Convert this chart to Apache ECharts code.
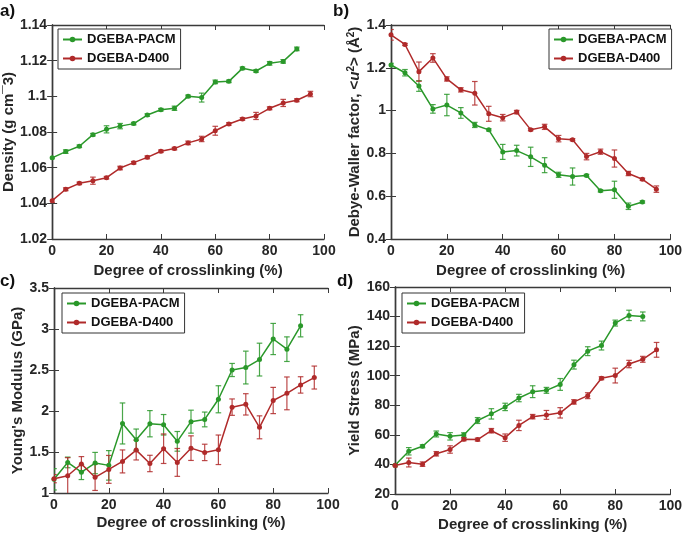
<!DOCTYPE html>
<html>
<head>
<meta charset="utf-8">
<script src="https://cdn.jsdelivr.net/npm/echarts@6/dist/echarts.min.js"></script>
<style>
html,body{margin:0;padding:0;background:#fff;}
#chart{width:685px;height:535px;}
</style>
</head>
<body>
<div id="chart"></div>
<script>
// ---------- DATA ----------
var xPACM = [0,5,10,15,20,25,30,35,40,45,50,55,60,65,70,75,80,85,90];
var xD400 = [0,5,10,15,20,25,30,35,40,45,50,55,60,65,70,75,80,85,90,95];
var seriesNames = ['DGEBA-PACM', 'DGEBA-D400'];
var xAxisTitle = 'Degree of crosslinking (%)';

// a) Density
var densityPACM    = [1.0655,1.069,1.072,1.0785,1.0815,1.0833,1.0847,1.0895,1.0925,1.0933,1.100,1.0993,1.1081,1.1084,1.1157,1.1142,1.1185,1.1196,1.1266];
var densityPACMErr = [0.0005,0.001,0.0007,0.0007,0.002,0.0015,0.0007,0.0007,0.0007,0.0012,0.0007,0.0025,0.001,0.0007,0.0007,0.0007,0.001,0.001,0.001];
var densityD400    = [1.0415,1.0479,1.0512,1.0527,1.0544,1.0598,1.0628,1.0658,1.0692,1.0707,1.0739,1.0761,1.0807,1.0845,1.0873,1.089,1.0933,1.0963,1.0978,1.1013];
var densityD400Err = [0.001,0.0008,0.0007,0.002,0.0007,0.001,0.0007,0.0008,0.0007,0.0007,0.001,0.0015,0.0025,0.0007,0.0007,0.002,0.0008,0.002,0.0008,0.0015];

// b) Debye-Waller factor
var dwPACM    = [1.213,1.177,1.115,1.008,1.026,0.989,0.933,0.910,0.807,0.813,0.784,0.745,0.700,0.692,0.697,0.625,0.630,0.553,0.573];
var dwPACMErr = [0.008,0.015,0.025,0.02,0.05,0.025,0.012,0.005,0.035,0.025,0.045,0.035,0.012,0.04,0.005,0.005,0.04,0.015,0.005];
var dwD400    = [1.354,1.309,1.182,1.246,1.148,1.097,1.081,0.985,0.967,0.993,0.911,0.924,0.869,0.864,0.785,0.808,0.776,0.706,0.679,0.633];
var dwD400Err = [0.025,0.005,0.045,0.02,0.01,0.01,0.055,0.035,0.015,0.008,0.005,0.012,0.015,0.005,0.015,0.012,0.04,0.01,0.005,0.015];

// c) Young's modulus
var ymPACM    = [1.167,1.373,1.254,1.365,1.337,1.848,1.65,1.845,1.832,1.63,1.87,1.897,2.143,2.50,2.53,2.627,2.878,2.754,3.039];
var ymPACMErr = [0.13,0.065,0.09,0.13,0.18,0.25,0.13,0.16,0.125,0.12,0.14,0.09,0.165,0.08,0.2,0.2,0.19,0.15,0.135];
var ymD400    = [1.175,1.211,1.354,1.191,1.288,1.385,1.523,1.36,1.54,1.373,1.547,1.495,1.527,2.047,2.081,1.801,2.128,2.215,2.318,2.408];
var ymD400Err = [0.05,0.22,0.09,0.16,0.17,0.14,0.12,0.1,0.18,0.17,0.15,0.1,0.18,0.1,0.13,0.14,0.16,0.2,0.1,0.14];

// d) Yield stress
var ysPACM    = [39.5,48.9,52.3,60.6,59.0,59.9,69.7,74.2,78.9,84.9,89.2,90.1,94.1,107.5,116.6,120.4,135.6,140.8,140.1];
var ysPACMErr = [1,2.5,1,2,2.5,1.5,2,3.5,2.5,2.5,4,2,4,3,3,3,2,3.5,3];
var ysD400    = [39.3,41.3,40.2,47.2,50.1,57.0,56.8,62.8,58.1,66.4,72.3,73.5,74.9,82.3,86.5,98.3,100.1,107.9,111.1,117.5];
var ysD400Err = [1,3,1.5,1.5,2.5,1,1,1.5,2.5,3.5,1.5,3,3.5,1.5,2,1,5,2.5,2,5];

// ---------- STYLE / LAYOUT ----------
var GREEN = '#2a982a';
var RED = '#b02a2a';
var FONT = 'Liberation Sans, Arial, sans-serif';
var AXIS_COLOR = '#3a3a3a';

var panels = [
  {label:'a)', lx:0, ly:3, grid:{left:51, top:25, width:273, height:214},
   y:{min:1.02, max:1.14, interval:0.02, dec:2, name:'Density (g cm¯3)', gap:26},
   xgap:24, legend:{left:58, top:29},
   g:densityPACM, ge:densityPACMErr, r:densityD400, re:densityD400Err},
  {label:'b)', lx:333, ly:3, grid:{left:391, top:25, width:282, height:214},
   y:{min:0.4, max:1.4, interval:0.2, dec:1, name:'Debye-Waller factor, <{it|u}{sup|2}> (Å{sup|2})', gap:22},
   xgap:24, legend:{left:549, top:29},
   g:dwPACM, ge:dwPACMErr, r:dwD400, re:dwD400Err},
  {label:'c)', lx:0, ly:273, grid:{left:54, top:288, width:274, height:205},
   y:{min:1, max:3.5, interval:0.5, dec:1, name:"Young's Modulus (GPa)", gap:23},
   xgap:22, legend:{left:62, top:293},
   g:ymPACM, ge:ymPACMErr, r:ymD400, re:ymD400Err},
  {label:'d)', lx:337, ly:273, grid:{left:395, top:287, width:277, height:207},
   y:{min:20, max:160, interval:20, dec:0, name:'Yield Stress (MPa)', gap:27},
   xgap:23, legend:{left:402, top:293},
   g:ysPACM, ge:ysPACMErr, r:ysD400, re:ysD400Err}
];

function fmt(dec){ return function(v){ return String(parseFloat(Number(v).toFixed(dec))); }; }

function makeErr(color){
  return function(params, api){
    var x = api.value(0), y = api.value(1), e = api.value(2);
    var hi = api.coord([x, y + e]);
    var lo = api.coord([x, y - e]);
    var w = 2.8;
    var st = {stroke: color, lineWidth: 1.2, opacity: 0.85};
    return {type:'group', children:[
      {type:'line', shape:{x1:hi[0], y1:hi[1], x2:lo[0], y2:lo[1]}, style:st},
      {type:'line', shape:{x1:hi[0]-w, y1:hi[1], x2:hi[0]+w, y2:hi[1]}, style:st},
      {type:'line', shape:{x1:lo[0]-w, y1:lo[1], x2:lo[0]+w, y2:lo[1]}, style:st}
    ]};
  };
}

var option = {
  animation:false,
  backgroundColor:'#fff',
  textStyle:{fontFamily:FONT},
  grid:[], xAxis:[], yAxis:[], series:[], legend:[], graphic:[]
};

panels.forEach(function(p, i){
  option.grid.push(p.grid);
  var tickStyle = {inside:true, length:5, lineStyle:{color:AXIS_COLOR, width:1}};
  var lineStyle = {show:true, lineStyle:{color:AXIS_COLOR, width:1.4}};
  var labelStyle = {fontSize:14, fontWeight:'bold', color:'#262626', fontFamily:FONT};
  option.xAxis.push({type:'value', gridIndex:i, min:0, max:100, interval:20, position:'bottom',
    axisLine:lineStyle, axisTick:tickStyle, splitLine:{show:false},
    axisLabel:Object.assign({margin:5}, labelStyle),
    name:xAxisTitle, nameLocation:'middle', nameGap:p.xgap,
    nameTextStyle:{fontSize:15, fontWeight:'bold', color:'#262626', fontFamily:FONT, verticalAlign:'top'}});
  option.xAxis.push({type:'value', gridIndex:i, min:0, max:100, interval:20, position:'top',
    axisLine:lineStyle, axisTick:tickStyle, splitLine:{show:false}, axisLabel:{show:false}});
  option.yAxis.push({type:'value', gridIndex:i, min:p.y.min, max:p.y.max, interval:p.y.interval, position:'left',
    axisLine:lineStyle, axisTick:tickStyle, splitLine:{show:false},
    axisLabel:Object.assign({margin:5, formatter:fmt(p.y.dec)}, labelStyle),
    name:p.y.name, nameLocation:'middle', nameGap:p.y.gap, nameRotate:90,
    nameTextStyle:{fontSize:15, fontWeight:'bold', color:'#262626', fontFamily:FONT,
      rich:{
        it:{fontSize:15, fontWeight:'bold', fontStyle:'italic', color:'#262626', fontFamily:FONT},
        sup:{fontSize:10, fontWeight:'bold', color:'#262626', fontFamily:FONT, verticalAlign:'top', padding:[0,0,8,0]}
      }}});
  option.yAxis.push({type:'value', gridIndex:i, min:p.y.min, max:p.y.max, interval:p.y.interval, position:'right',
    axisLine:lineStyle, axisTick:tickStyle, splitLine:{show:false}, axisLabel:{show:false}});

  var xi = 2*i, yi = 2*i;
  var gData = xPACM.map(function(x, k){ return [x, p.g[k]]; });
  var rData = xD400.map(function(x, k){ return [x, p.r[k]]; });
  var geData = xPACM.map(function(x, k){ return [x, p.g[k], p.ge[k]]; });
  var reData = xD400.map(function(x, k){ return [x, p.r[k], p.re[k]]; });

  option.series.push({type:'custom', name:'errG'+i, xAxisIndex:xi, yAxisIndex:yi, clip:true,
    renderItem:makeErr(GREEN), data:geData, z:3, silent:true});
  option.series.push({type:'custom', name:'errR'+i, xAxisIndex:xi, yAxisIndex:yi, clip:true,
    renderItem:makeErr(RED), data:reData, z:3, silent:true});
  option.series.push({type:'line', name:seriesNames[0], xAxisIndex:xi, yAxisIndex:yi, data:gData,
    symbol:'circle', symbolSize:5, color:GREEN, lineStyle:{width:1.5, color:GREEN},
    itemStyle:{color:GREEN}, z:4});
  option.series.push({type:'line', name:seriesNames[1], xAxisIndex:xi, yAxisIndex:yi, data:rData,
    symbol:'circle', symbolSize:5, color:RED, lineStyle:{width:1.5, color:RED},
    itemStyle:{color:RED}, z:4});

  option.legend.push({data:seriesNames, left:p.legend.left, top:p.legend.top, orient:'vertical',
    itemWidth:19, itemHeight:7, itemGap:4, padding:[3,5,3,4],
    borderColor:'#333', borderWidth:1, backgroundColor:'#fff',
    textStyle:{fontSize:13, fontWeight:'bold', color:'#111', fontFamily:FONT, lineHeight:15}, selectedMode:false});

  option.graphic.push({type:'text', left:p.lx, top:p.ly,
    style:{text:p.label, font:'bold 17px Liberation Sans, Arial, sans-serif', fill:'#111'}});
});

var chart = echarts.init(document.getElementById('chart'), null, {renderer:'canvas'});
chart.setOption(option);
</script>
</body>
</html>
